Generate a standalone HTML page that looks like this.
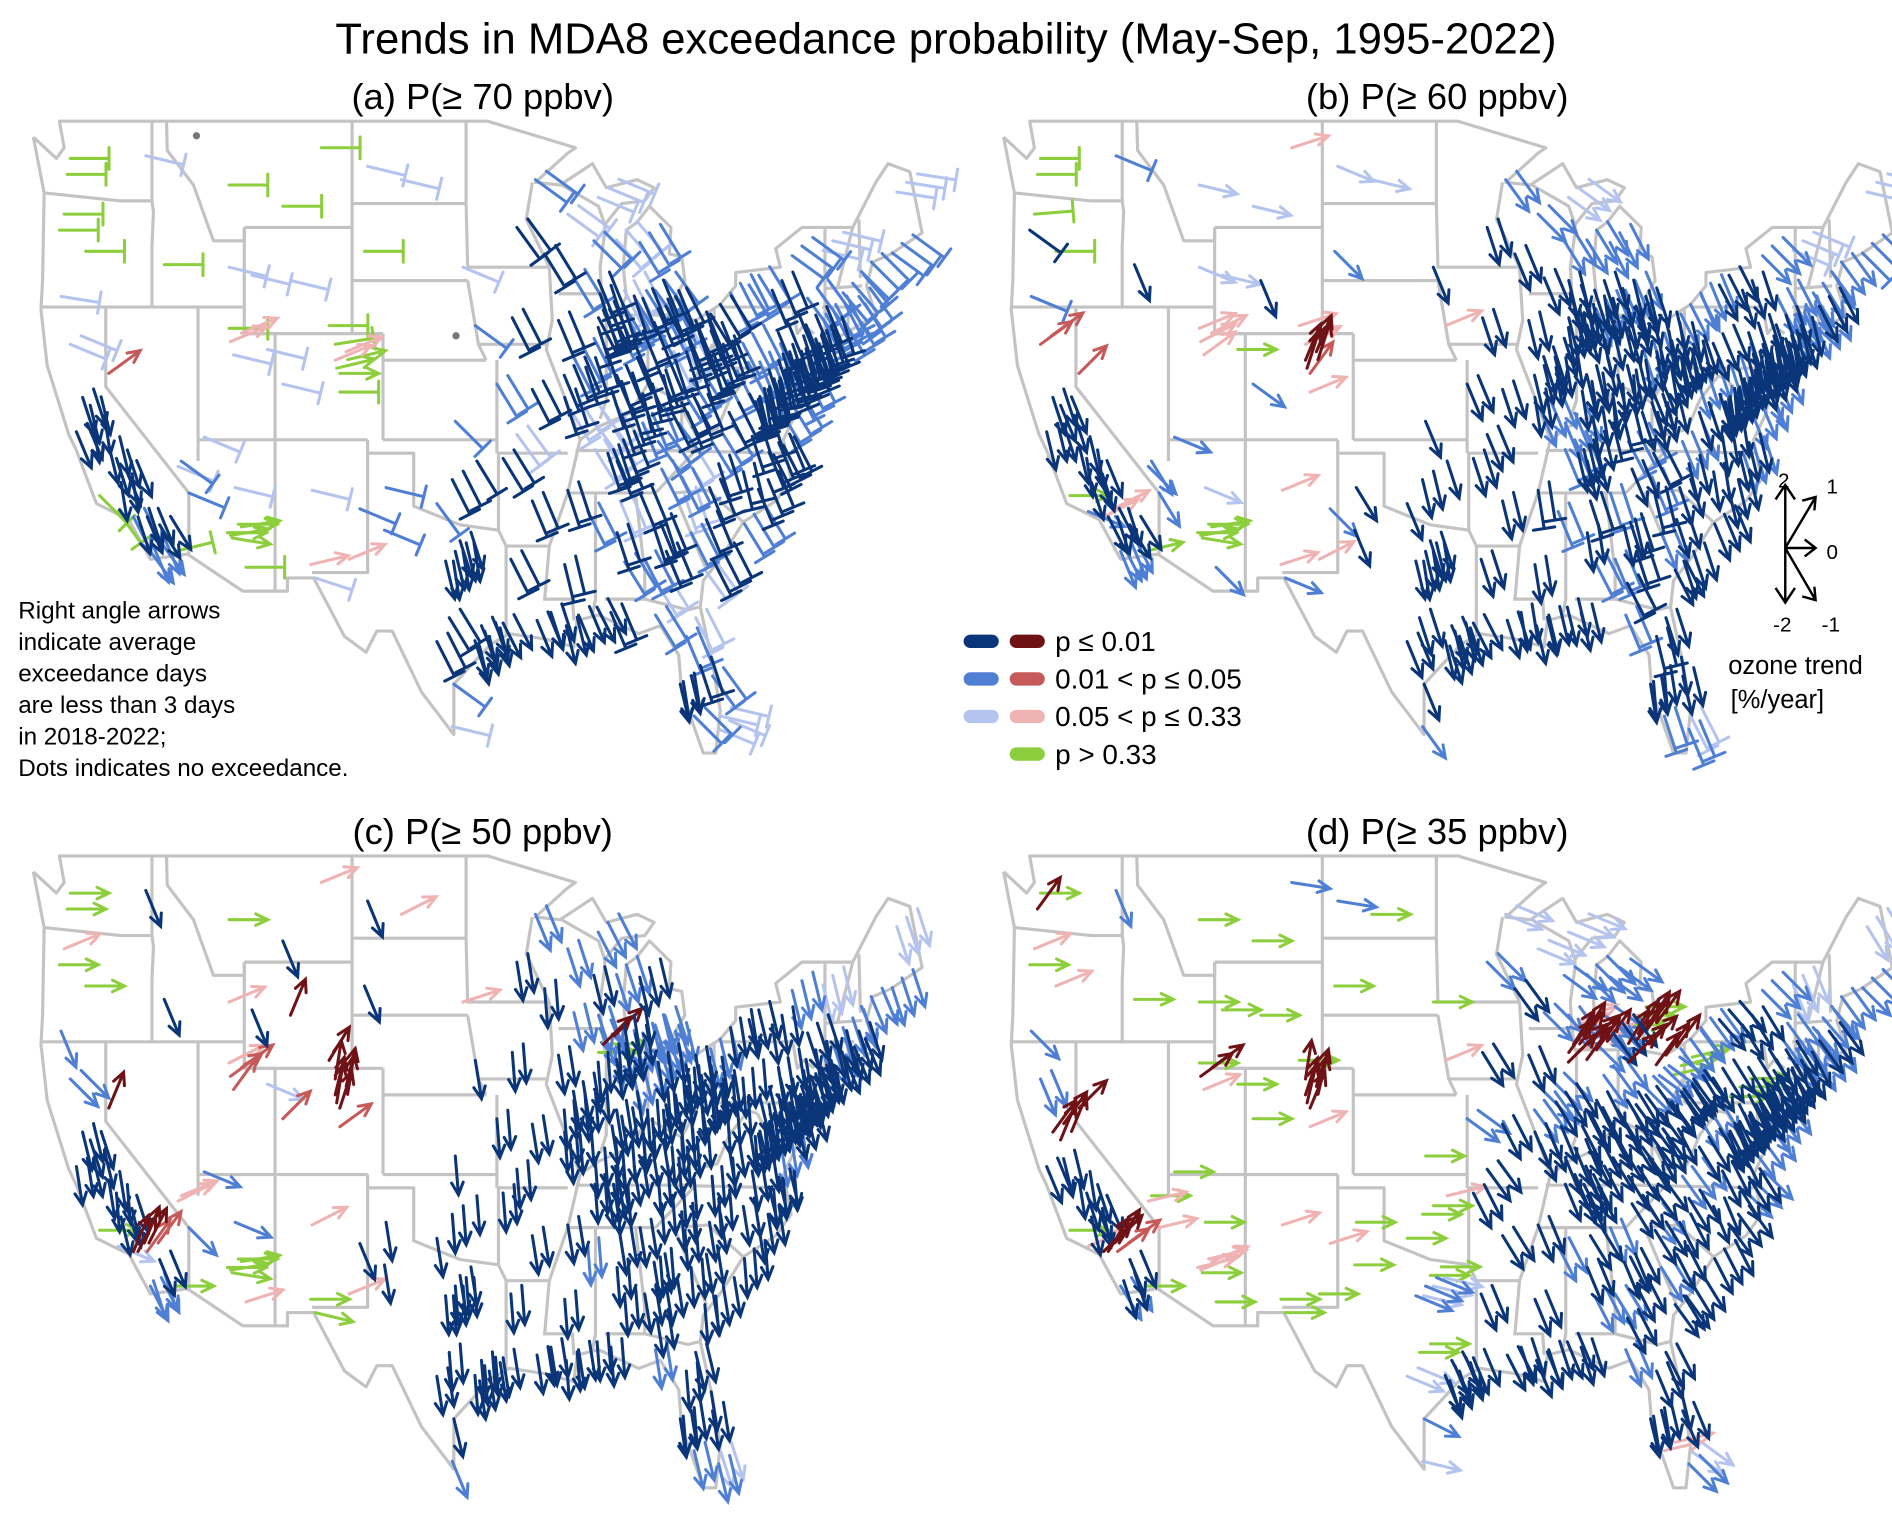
<!DOCTYPE html>
<html><head><meta charset="utf-8"><style>
html,body{margin:0;padding:0;background:#fff;}
svg{display:block;font-family:"Liberation Sans",Arial,sans-serif;}
</style></head><body>
<svg id="fig" width="1892" height="1513" viewBox="0 0 1560 1248" preserveAspectRatio="none" xmlns="http://www.w3.org/2000/svg">
<rect width="1560" height="1248" fill="#fff"/>
<text x="780" y="44" font-size="36" text-anchor="middle">Trends in MDA8 exceedance probability (May-Sep, 1995-2022)</text>
<text x="398" y="90" font-size="30" text-anchor="middle">(a) P(≥ 70 ppbv)</text>
<text x="1185" y="90" font-size="30" text-anchor="middle">(b) P(≥ 60 ppbv)</text>
<text x="398" y="696" font-size="30" text-anchor="middle">(c) P(≥ 50 ppbv)</text>
<text x="1185" y="696" font-size="30" text-anchor="middle">(d) P(≥ 35 ppbv)</text>
<g id="maps"></g>
<g font-size="20">
<text x="15" y="510">Right angle arrows</text>
<text x="15" y="536">indicate average</text>
<text x="15" y="562">exceedance days</text>
<text x="15" y="588">are less than 3 days</text>
<text x="15" y="614">in 2018-2022;</text>
<text x="15" y="640">Dots indicates no exceedance.</text>
</g>
<g font-size="23">
<g><line x1="800" y1="529" x2="818" y2="529" stroke="#0a3578" stroke-width="11" stroke-linecap="round"/><line x1="838" y1="529" x2="856" y2="529" stroke="#6e1216" stroke-width="11" stroke-linecap="round"/><text x="870" y="537">p ≤ 0.01</text></g>
<g><line x1="800" y1="560" x2="818" y2="560" stroke="#4f7fd4" stroke-width="11" stroke-linecap="round"/><line x1="838" y1="560" x2="856" y2="560" stroke="#c65a5a" stroke-width="11" stroke-linecap="round"/><text x="870" y="568">0.01 &lt; p ≤ 0.05</text></g>
<g><line x1="800" y1="591" x2="818" y2="591" stroke="#b5c4ee" stroke-width="11" stroke-linecap="round"/><line x1="838" y1="591" x2="856" y2="591" stroke="#f0b3b3" stroke-width="11" stroke-linecap="round"/><text x="870" y="599">0.05 &lt; p ≤ 0.33</text></g>
<g><line x1="838" y1="622" x2="856" y2="622" stroke="#8cce3c" stroke-width="11" stroke-linecap="round"/><text x="870" y="630">p &gt; 0.33</text></g>
</g>
<g font-size="17" stroke="#000" stroke-width="2" fill="none">
<path d="M1472 452 L1472 400 M1464 412 L1472 400 L1480 412"/>
<path d="M1472 452 L1497 410 M1486 413 L1497 410 L1496 421"/>
<path d="M1472 452 L1497 452 M1488 445 L1497 452 L1488 459"/>
<path d="M1472 452 L1497 495 M1486 492 L1497 495 L1496 484"/>
<path d="M1472 452 L1472 497 M1464 485 L1472 497 L1480 485"/>
<g stroke="none" fill="#000"><text x="1466" y="402">2</text><text x="1506" y="407">1</text><text x="1506" y="461">0</text><text x="1462" y="521">-2</text><text x="1502" y="521">-1</text></g>
<g stroke="none" fill="#000" font-size="21"><text x="1425" y="556">ozone trend</text><text x="1427" y="584">[%/year]</text></g>
</g>
</svg>
<script>
// station locations [lon, lat]
const stations=[
[-122.3,47.6],[-122.5,47.0],[-117.4,47.7],[-122.7,45.5],[-123.0,44.9],[-122.9,42.4],[-121.3,44.1],
[-122.3,40.6],[-121.5,38.6],[-121.0,38.3],[-121.9,37.3],[-120.8,37.6],[-119.8,36.8],[-119.3,36.3],[-119.0,35.4],[-118.7,35.9],[-118.2,34.1],[-117.9,34.1],[-117.3,34.1],[-116.5,33.8],[-117.1,32.8],[-116.9,33.0],[-120.4,34.9],[-119.2,34.3],[-115.5,32.8],
[-119.8,39.5],[-115.1,36.2],[-115.3,36.0],[-116.2,43.6],[-112.0,43.5],[-112,46.6],[-108.5,45.8],[-106,48],[-108,43],[-105.5,41.3],[-110.5,43.2],[-111.9,40.7],[-111.7,40.2],[-112,41.2],[-113.6,37.1],[-109.5,40.4],[-105.0,39.7],[-105.1,40.0],[-104.8,39.5],[-105.1,40.6],[-104.8,38.8],[-108.5,39.1],[-112.1,33.5],[-111.9,33.4],[-111.8,33.3],[-110.9,32.2],[-111.6,35.2],[-114.6,35.0],[-106.6,35.1],[-106.7,32.3],
[-104.2,32.5],[-103.5,34.4],[-106.4,31.8],[-101.8,35.2],[-101.9,33.6],[-97.3,32.8],[-96.8,32.8],[-97.0,33.2],[-95.4,29.8],[-95.1,29.6],[-95.6,30.0],[-94.2,30.1],[-97.7,30.3],[-98.5,29.4],[-97.4,27.8],[-97.5,26.2],[-97.5,35.5],[-95.9,36.2],[-98.5,34.6],[-97.3,37.7],[-96.0,41.3],[-100.8,46.8],[-103,47.3],[-96.8,43.5],[-103.2,44.1],
[-93.3,45.0],[-92.1,46.8],[-91.5,44.0],[-93.6,41.6],[-90.6,41.5],[-94.6,39.1],[-90.2,38.6],[-92.3,38.9],[-93.3,37.2],[-92.3,34.7],[-94.2,36.3],[-93.7,32.5],[-91.1,30.5],[-90.1,30.0],[-92.0,30.2],[-89.6,43.1],[-88.0,43.0],[-87.9,42.5],[-88.3,44.5],[-90.0,45.5],[-87.7,41.9],[-88.0,41.6],
[-89.6,39.8],[-89.0,40.5],[-88.2,40.1],[-89.2,38.5],[-86.2,39.8],[-87.4,41.6],[-86.2,41.7],[-85.1,41.1],[-87.6,38.0],[-86.5,39.2],[-83.0,42.4],[-83.5,42.3],[-85.6,42.3],[-86.4,42.1],[-85.7,43.0],[-84.5,42.7],[-83.7,43.0],[-84.7,44.8],[-86.2,44.9],[-87.4,46.5],[-81.7,41.5],[-81.5,41.1],[-83.5,41.6],[-84.5,39.1],[-84.2,39.8],[-83.0,40.0],[-82.5,40.7],[-80.7,41.1],[-82.0,39.3],[-85.8,38.2],[-84.5,38.0],[-82.6,38.4],[-87.6,37.0],[-86.4,37.0],[-83.5,37.3],
[-86.8,36.2],[-90.0,35.1],[-83.9,35.9],[-85.3,35.0],[-82.5,36.5],[-87.4,36.5],[-90.2,32.3],[-88.7,34.3],[-89.3,30.4],[-86.8,33.5],[-86.6,34.7],[-88.1,30.7],[-86.3,32.4],[-84.4,33.7],[-84.0,33.9],[-85.0,32.5],[-81.1,32.1],[-83.6,32.8],[-82.0,33.5],[-84.2,31.6],[-87.2,30.5],[-84.3,30.4],[-81.7,30.3],[-81.4,28.5],[-82.5,27.9],[-82.7,27.8],[-82.3,29.6],[-80.2,26.1],[-80.1,26.6],[-81.8,26.6],[-80.6,28.1],[-80.8,35.2],[-80.2,36.1],[-78.6,35.8],[-82.6,35.6],[-81.0,34.0],[-82.4,34.9],
[-79.9,32.8],[-77.9,34.2],[-77.0,35.5],[-76.0,36.8],[-77.4,37.5],[-76.3,36.9],[-77.0,38.9],[-77.2,38.8],[-76.6,39.3],[-76.9,39.0],[-80.0,37.3],[-78.9,38.4],[-81.6,38.4],[-80.7,40.1],[-79.0,39.6],[-75.6,39.7],[-75.5,38.4],[-80.0,40.4],[-79.9,40.6],[-75.2,40.0],[-75.4,40.6],[-76.9,40.3],[-76.3,40.0],[-78.0,41.0],[-80.1,42.1],[-75.7,41.4],[-74.2,40.7],[-74.4,40.3],[-74.7,39.9],[-74.5,39.4],[-73.9,40.8],[-73.4,40.8],[-78.8,42.9],[-77.6,43.2],[-76.1,43.0],[-73.8,42.7],[-74.8,44.3],[-73.9,41.7],[-72.9,41.3],[-72.7,41.8],[-71.4,41.8],[-71.1,42.4],[-72.6,42.1],[-71.5,42.9],[-70.3,43.7],[-68.3,44.4],[-72.8,44.5],[-68.0,46.7]
];
// number of monitors at each site
const siteCount=[1,1,1,1,1,1,1,
2,2,2,2,2,2,2,2,2,2,2,2,2,2,2,1,1,1,
1,1,1,1,1,1,1,1,1,1,1,2,1,1,1,1,2,2,1,1,1,1,2,2,1,1,1,1,1,1,
1,1,1,1,1,3,3,2,3,3,2,2,2,2,1,1,2,1,1,1,1,1,1,1,1,
2,2,2,2,2,2,2,2,2,2,2,2,2,2,2,2,2,2,2,2,2,2,
3,3,3,3,3,3,3,3,3,3,3,3,3,3,3,3,3,3,3,3,3,3,3,3,3,3,3,3,3,3,3,3,3,3,3,
2,2,2,2,2,2,2,2,2,2,2,2,2,2,2,2,2,2,2,2,2,2,2,2,2,2,2,2,2,2,2,2,2,2,2,2,2,
3,3,3,3,3,3,3,3,3,3,3,3,3,3,3,3,3,3,3,3,3,3,3,3,3,3,3,3,3,3,3,3,3,3,3,3,3,3,3,3,3,3,3,3,3,3,3,3];
// panel (a) P>=70
const trA=[0,0,-0.3,0,0,-0.2,0,
-0.5,-1.6,-1.7,-1.5,-1.8,-1.7,-1.6,-1.8,-1.5,-1.4,-1.6,-1.5,-1.3,-1.2,-1.5,-1.0,-1.2,0.3,
0.8,-0.8,-0.5,0,-0.3,0,0,0,-0.3,0,-0.3,0.5,-0.3,0,-0.5,-0.3,0.3,0.5,0,0.2,0,-0.3,0,0.2,-0.2,0,-0.3,-0.5,-0.3,0.3,
0.5,-0.5,-0.4,-0.3,-0.5,-1.7,-1.8,-1.6,-1.6,-1.7,-1.5,-1.4,-1.3,-1.4,-0.8,-0.3,-1.4,-1.3,-1.2,-1.0,-0.8,-0.3,-0.3,-0.5,0,
-1.2,-0.8,-1.3,-1.4,-1.5,-1.3,-1.6,-1.4,-1.2,-1.5,-1.3,-1.4,-1.6,-1.7,-1.5,-1.3,-1.5,-1.6,-1.0,-0.8,-1.5,-1.4,
-1.5,-1.4,-1.6,-1.3,-1.5,-1.6,-1.4,-1.5,-1.2,-1.6,-1.4,-1.5,-1.3,-1.6,-1.4,-1.5,-1.2,-1.3,-1.1,-0.5,-1.5,-1.6,-1.4,-1.7,-1.5,-1.6,-1.4,-1.5,-1.3,-1.6,-1.5,-1.4,-1.3,-1.5,-1.2,
-1.5,-1.6,-1.4,-1.5,-1.3,-1.6,-1.7,-1.4,-1.5,-1.6,-1.5,-1.4,-1.3,-1.6,-1.5,-1.4,-1.2,-1.5,-1.4,-1.3,-1.5,-1.3,-1.4,-1.6,-1.8,-1.7,-1.5,-0.5,-0.3,-1.0,-1.2,-1.5,-1.6,-1.7,-1.4,-1.5,-1.6,
-1.4,-1.3,-1.5,-1.4,-1.6,-1.5,-1.7,-1.6,-1.8,-1.7,-1.3,-1.4,-1.5,-1.6,-1.4,-1.7,-1.3,-1.6,-1.5,-1.7,-1.6,-1.5,-1.6,-1.4,-1.3,-1.5,-1.7,-1.6,-1.5,-1.4,-1.6,-1.5,-1.4,-1.3,-1.5,-1.2,-0.8,-1.5,-1.6,-1.4,-1.3,-1.2,-1.4,-1.1,-1.0,-0.8,-0.3,-0.2];
const sigA=[4,4,3,4,4,3,4,
3,1,1,1,1,1,1,1,1,2,1,1,1,2,2,4,4,4,
2,2,3,4,3,4,4,4,3,4,3,3,3,4,3,3,4,3,4,4,4,3,4,4,4,4,3,2,3,3,
3,2,3,2,2,1,1,1,1,1,1,1,1,1,2,3,1,1,2,2,2,3,3,3,4,
1,2,1,1,1,2,1,1,3,1,1,1,1,1,1,2,1,1,2,3,1,1,
1,2,1,3,1,1,2,1,3,1,1,1,2,1,3,1,2,2,3,3,1,1,2,1,1,1,3,1,2,1,2,1,3,1,2,
1,1,2,1,3,1,1,2,1,1,3,1,2,1,1,2,3,1,2,3,1,2,3,1,1,1,2,3,3,2,2,1,1,1,2,1,3,
1,2,1,1,1,1,1,1,1,1,2,1,1,1,2,1,2,1,1,1,1,2,1,2,1,1,1,1,1,2,1,1,2,2,1,2,2,1,1,2,2,2,2,2,2,2,3,3];
const shortA=[1,1,1,1,1,1,1,
1,0,0,0,0,0,0,0,0,0,0,0,0,0,0,1,1,1,
0,1,1,1,1,1,1,1,1,1,1,0,1,1,1,1,0,0,0,1,1,1,0,0,0,1,1,1,1,0,
0,1,1,1,1,0,0,0,0,0,0,0,1,1,1,1,1,1,1,1,1,1,1,1,1,
1,1,1,1,1,1,1,1,1,1,1,1,0,0,0,1,1,1,1,1,1,1,
1,1,1,1,1,1,1,1,1,1,1,1,1,1,1,1,1,1,1,1,1,1,1,1,1,1,1,1,1,1,1,1,1,1,1,
1,1,1,1,1,1,1,1,0,1,1,0,1,1,1,1,1,1,1,1,1,1,1,1,0,0,1,1,1,1,1,1,1,1,1,1,1,
1,1,1,1,1,1,1,1,1,1,1,1,1,1,1,1,1,1,1,1,1,1,1,1,1,1,1,1,1,1,1,1,1,1,1,1,1,1,1,1,1,1,1,1,1,1,1,1];
// panel (b) P>=60
const trB=[0,0,-0.5,0.1,-0.8,-0.5,0,
0.8,-1.6,-1.5,-1.7,-1.6,-1.7,-1.8,-1.6,-1.5,0.6,-1.4,-1.6,-1.3,-1.5,-1.4,0,-0.5,0.3,
1.0,-1.3,-1.0,-1.5,-0.5,-0.3,-0.3,0.4,-1.5,0.4,-0.3,0.6,0.8,0.5,-0.5,0,1.6,1.5,1.2,0.6,0.5,-0.8,0,0.2,-0.2,-1.0,-0.5,-1.3,0.5,0.4,
0.6,-1.0,-0.5,-1.3,-1.5,-1.7,-1.8,-1.6,-1.7,-1.6,-1.5,-1.4,-1.6,-1.5,-1.5,-1.2,-1.7,-1.6,-1.5,-1.5,0.5,-0.3,-0.5,-1.5,-1.0,
-1.6,-1.2,-1.5,-1.6,-1.7,-1.5,-1.8,-1.6,-1.5,-1.7,-1.6,-1.6,-1.8,-1.7,-1.6,-1.5,-1.7,-1.6,-1.3,-1.0,-1.6,-1.7,
-1.7,-1.6,-1.8,-1.5,-1.7,-1.8,-1.6,-1.7,-1.5,-1.8,-1.6,-1.7,-1.5,-1.8,-1.6,-1.7,-1.5,-1.4,-1.3,-0.8,-1.7,-1.8,-1.6,-1.9,-1.7,-1.8,-1.6,-1.7,-1.5,-1.8,-1.7,-1.6,-1.5,-1.7,-1.4,
-1.7,-1.8,-1.5,-1.6,-1.4,-1.7,-1.8,-1.5,-1.7,-1.8,-1.6,-1.7,-1.4,-1.7,-1.6,-1.5,-1.4,-1.6,-1.5,-1.4,-1.7,-1.5,-1.6,-1.8,-1.9,-1.8,-1.7,-1.5,-1.4,-1.6,-1.7,-1.6,-1.7,-1.8,-1.5,-1.6,-1.7,
-1.6,-1.5,-1.7,-1.6,-1.8,-1.7,-1.9,-1.8,-1.9,-1.8,-1.5,-1.6,-1.7,-1.8,-1.6,-1.8,-1.5,-1.7,-1.6,-1.8,-1.7,-1.6,-1.7,-1.5,-1.4,-1.6,-1.8,-1.7,-1.6,-1.5,-1.7,-1.6,-1.5,-1.4,-1.6,-1.4,-1.0,-1.6,-1.7,-1.5,-1.5,-1.4,-1.6,-1.3,-1.2,-1.0,-0.5,-0.3];
const sigB=[4,4,2,4,1,2,4,
2,1,1,1,1,1,1,1,1,3,1,1,1,2,2,4,2,4,
2,2,2,1,3,3,3,3,1,3,3,3,3,3,2,4,1,1,2,3,3,2,4,4,4,2,3,2,3,3,
3,2,2,1,1,1,1,1,1,1,1,1,1,1,1,2,1,1,1,1,3,3,3,1,2,
1,2,1,1,1,1,1,1,1,1,1,1,1,1,1,1,1,1,2,2,1,1,
1,1,1,2,1,1,1,1,2,1,1,1,2,1,1,1,2,2,2,3,1,1,1,1,1,1,2,1,1,1,1,1,2,1,2,
1,1,1,2,1,1,1,2,1,1,1,1,2,1,1,2,1,1,2,1,1,2,1,1,1,1,1,2,3,2,1,1,1,1,2,1,1,
1,1,1,2,1,1,1,1,1,1,2,1,1,1,2,1,2,1,1,1,1,2,1,1,2,1,1,1,1,2,1,1,2,1,1,2,2,1,1,2,2,1,2,2,2,2,3,3];
const shortB=[1,1,1,1,1,1,1,
0,0,0,0,0,0,0,0,0,0,0,0,0,0,0,0,0,0,
0,0,0,0,0,0,0,0,0,0,0,0,0,0,0,0,0,0,0,0,0,0,0,0,0,0,0,0,0,0,
0,0,0,0,0,0,0,0,0,0,0,0,0,0,0,0,0,0,0,0,0,0,0,0,0,
0,0,0,0,0,0,0,0,0,0,0,0,0,0,0,0,0,0,0,0,0,0,
0,0,0,0,0,0,0,0,0,0,0,0,0,0,0,0,0,0,0,0,0,0,0,0,0,0,0,0,0,0,1,0,1,0,1,
0,1,0,1,1,0,0,1,0,0,1,0,1,0,1,1,0,1,0,1,0,1,0,0,0,0,1,1,1,1,0,0,0,0,1,0,1,
0,0,0,0,0,0,0,0,0,0,0,0,0,0,0,0,0,0,0,0,0,0,0,0,0,0,0,0,0,0,0,0,0,0,0,0,0,0,0,0,0,0,0,0,0,1,1,1];
// panel (c) P>=50
const trC=[0,0,-1.5,0.5,0,-1.5,0,
-1.0,-1.7,-1.6,-1.8,-1.7,-1.8,-1.9,-1.7,-1.6,1.5,1.4,1.2,-1.5,-1.4,-1.6,0,-0.5,0,
1.5,0.5,0.6,-1.5,0.5,0,-1.5,0.5,1.5,1.3,-1.5,0.8,1.2,0.6,-0.5,-0.5,1.8,1.7,1.6,1.8,0.8,1.0,0,0.2,-0.2,0.4,-0.5,-1.0,0.6,0,
0.5,-1.5,-0.3,-1.8,-1.8,-1.9,-1.9,-1.8,-1.9,-1.8,-1.9,-1.8,-1.9,-1.8,-1.7,-1.5,-1.9,-1.9,-1.8,-1.9,-1.8,0.6,-1.5,0.4,-1.5,
-1.8,-1.5,-1.9,-1.9,-1.8,-1.9,-1.9,-1.8,-1.9,-1.8,-1.9,-1.9,-1.8,-1.9,-1.8,-1.7,-1.6,-1.5,-1.7,-1.6,1.0,0,
-1.9,-1.8,-1.9,-1.9,-1.8,-1.9,-1.8,-1.7,-1.9,-1.8,-1.7,-1.6,-1.8,-1.7,-1.8,-1.7,-1.6,-1.7,-1.6,-1.4,-1.8,-1.9,-1.8,-1.9,-1.9,-1.8,-1.9,-1.8,-1.9,-1.9,-1.8,-1.9,-1.9,-1.8,-1.9,
-1.9,-1.8,-1.9,-1.8,-1.9,-1.8,-1.9,-1.9,-1.8,-1.9,-1.8,-1.9,-1.9,-1.8,-1.9,-1.8,-1.9,-1.8,-1.9,-1.8,-1.9,-1.8,-1.7,-1.8,-1.9,-1.8,-1.9,-1.7,-1.6,-1.7,-1.8,-1.8,-1.9,-1.8,-1.9,-1.8,-1.9,
-1.8,-1.9,-1.8,-1.9,-1.8,-1.7,-1.8,-1.9,-1.8,-1.7,-1.9,-1.8,-1.9,-1.8,-1.9,-1.7,-1.8,-1.9,-1.8,-1.7,-1.8,-1.7,-1.8,-1.9,-1.7,-1.8,-1.6,-1.7,-1.8,-1.7,-1.6,-1.7,-1.8,-1.7,-1.8,-1.6,-1.7,-1.8,-1.7,-1.6,-1.5,-1.6,-1.7,-1.6,-1.5,-1.6,-1.7,-1.6];
const sigC=[4,4,1,3,4,2,4,
2,1,1,1,1,1,1,1,1,1,1,2,1,2,2,4,3,4,
1,3,3,1,3,4,1,3,1,1,1,2,2,3,2,3,1,1,1,1,2,2,4,4,4,3,2,2,3,4,
3,1,4,1,1,1,1,1,1,1,1,1,1,1,1,2,1,1,1,1,1,3,1,3,1,
1,2,1,1,1,1,1,1,1,1,1,1,1,1,1,2,2,2,1,2,1,4,
1,1,1,1,1,1,1,2,1,1,2,2,1,2,1,2,2,1,2,2,1,1,1,1,1,1,1,1,1,1,1,1,1,1,1,
1,1,1,1,1,1,1,2,1,1,1,1,1,1,1,1,1,1,1,1,1,2,1,1,1,1,1,2,3,2,1,1,1,1,1,1,1,
1,1,1,1,1,1,1,1,1,1,1,1,1,1,1,1,2,1,1,1,1,1,1,1,2,1,1,1,1,1,1,1,1,1,1,1,2,1,1,2,1,1,1,2,2,2,3,3];
// panel (d) P>=35
const trD=[0,1.2,-1.5,0.5,0,-1.0,0.5,
-1.5,1.2,1.5,-1.5,-1.7,-1.8,-1.6,-1.7,-1.5,1.0,1.3,0.8,-1.5,-1.3,-1.6,0,0.5,0,
1.0,0,0.3,0,0,0,0,-0.2,0,0,0,0.8,0.5,0,0,0,1.7,1.6,1.5,1.8,0.5,0,0.3,0.5,0,0,0,0.3,0.4,0,
0,0.4,0,0,0,-0.5,-0.3,0,-1.5,-1.6,-1.4,-1.5,0,-0.5,-0.6,-0.3,0,0.3,0,0,0.5,0,-0.2,0,0,
-1.0,-0.5,-1.2,-1.3,-1.5,-0.8,-1.5,-1.4,-1.2,-1.3,-1.4,-1.5,-1.6,-1.5,-1.4,-1.0,-1.2,0.5,-0.8,-0.5,1.3,1.2,
-1.2,-1.0,-1.3,-1.5,-1.4,1.0,1.2,-1.2,-1.5,-1.4,1.2,1.3,-1.0,0.5,-0.8,-1.2,0,-0.8,-1.0,-0.5,1.2,-0.8,1.0,-1.4,-1.3,-1.2,-1.0,0.3,-1.2,-1.4,-1.3,-1.2,-1.5,-1.4,-1.3,
-1.4,-1.5,-1.3,-1.5,-1.2,-1.4,-1.5,-1.4,-1.6,-1.5,-1.3,-1.5,-1.4,-1.5,-1.4,-1.3,-1.2,-1.4,-1.3,-1.4,-1.6,-1.5,-1.4,-1.7,-1.8,-1.7,-1.5,-1.0,-0.8,0.3,-1.5,-1.4,-1.3,-1.5,-1.2,-1.4,-1.3,
-1.3,-1.4,-1.2,-1.0,-1.4,-1.3,-1.5,-1.4,-1.5,-1.4,-1.2,-1.3,-1.4,-1.2,-1.3,-1.5,-1.2,-1.3,-1.2,-1.4,-1.3,0,-1.4,-1.3,-1.2,-1.3,-1.5,-1.4,-1.3,-1.2,-1.4,-1.3,-1.2,-1.1,-1.3,-1.2,-1.0,-1.3,-1.4,-1.2,-1.3,-1.2,-1.3,-1.1,-1.2,-1.0,-1.5,-1.3];
const sigD=[4,1,2,3,4,2,3,
2,1,1,1,1,1,1,1,1,1,1,2,1,2,1,4,3,4,
1,4,3,4,4,4,4,2,4,4,4,1,3,4,4,4,1,1,1,1,3,4,3,3,4,4,4,3,3,4,
4,3,4,4,4,2,3,4,1,1,1,1,4,3,2,3,4,3,4,4,3,4,2,4,4,
2,3,1,1,1,2,1,1,1,1,1,1,1,1,1,2,2,3,2,3,1,1,
2,2,1,1,1,1,1,2,1,1,1,1,2,3,2,1,4,2,2,3,1,2,1,1,1,1,2,4,1,1,1,1,1,1,1,
1,1,1,2,1,1,1,2,1,1,1,1,2,1,1,2,1,1,2,1,1,2,1,1,1,1,1,2,3,3,1,1,1,1,2,1,1,
1,1,1,2,1,1,1,1,1,1,2,1,1,1,2,1,2,1,1,1,1,4,1,1,2,1,1,1,1,2,1,1,2,1,1,2,2,1,1,2,2,1,2,2,2,2,3,3];

// geography (lon/lat polylines)
const outline=[[-124.7,48.4],[-124.0,46.3],[-124.1,43.0],[-124.2,41.9],[-123.8,39.8],[-122.4,37.2],[-121.9,36.6],[-120.6,34.6],[-118.5,34.0],[-117.1,32.5],[-114.7,32.7],[-111.1,31.3],[-108.2,31.3],[-108.2,31.8],[-106.5,31.8],[-104.5,29.6],[-103.1,29.0],[-102.4,29.8],[-101.4,29.8],[-99.5,27.5],[-97.4,25.9],[-97.4,27.8],[-95.0,29.3],[-93.8,29.7],[-91.5,29.5],[-89.6,29.2],[-89.4,30.2],[-88.0,30.4],[-85.4,29.7],[-84.0,30.0],[-82.8,28.9],[-82.6,27.5],[-81.2,25.2],[-80.4,25.2],[-80.1,26.8],[-80.6,28.6],[-81.4,30.7],[-81.2,31.7],[-80.0,32.6],[-78.6,33.9],[-76.5,34.7],[-75.5,35.5],[-76.0,37.0],[-75.2,38.0],[-74.9,38.9],[-74.0,40.5],[-72.0,41.0],[-70.0,41.7],[-70.6,42.8],[-70.2,43.7],[-69.0,44.0],[-67.0,44.8],[-67.8,47.1],[-69.2,47.4],[-70.0,46.7],[-71.5,45.0],[-74.8,45.0],[-76.5,44.2],[-76.2,43.5],[-79.1,43.3],[-79.1,42.8],[-80.1,42.1],[-81.7,41.5],[-83.5,41.7],[-83.1,42.3],[-82.4,43.0],[-82.6,43.9],[-83.4,44.0],[-83.3,45.0],[-84.7,45.8],[-85.5,45.2],[-86.2,44.9],[-86.4,43.5],[-86.2,42.4],[-86.8,41.7],[-87.6,41.7],[-87.8,42.5],[-87.9,43.5],[-87.6,44.8],[-87.6,45.1],[-86.5,45.9],[-85.0,46.0],[-84.4,46.5],[-85.5,46.8],[-87.5,46.5],[-88.4,47.4],[-90.5,46.6],[-92.1,46.7],[-90.0,47.8],[-89.5,48.0],[-95.2,49.0],[-123.0,49.0],[-122.7,48.0],[-123.2,47.6],[-124.7,48.4]];
const borders=[
[[-124,46.3],[-119,46],[-116.9,46]],[[-117,49],[-117,46.0],[-116.9,45.6],[-117,44.3],[-117,42]],[[-124.2,42],[-111,42]],
[[-120,42],[-120,39],[-114.6,35],[-114.6,32.7]],[[-114,42],[-114,36.2]],[[-114,37],[-103,37]],[[-109,41],[-109,31.3]],
[[-111,42],[-111,41],[-109,41]],[[-111,41],[-102,41]],[[-111,45],[-104,45]],[[-111,45],[-111,42]],[[-104,49],[-104,41]],
[[-116.05,49],[-116,47.9],[-114.3,46.6],[-113,44.5],[-111,44.5],[-111,45]],[[-104,45.9],[-96.6,45.9]],[[-104,43],[-96.5,43]],
[[-102,40],[-95.3,40]],[[-102,41],[-102,37]],[[-102,37],[-94.6,37]],[[-103,36.5],[-100,36.5],[-100,34.5],[-97,33.8],[-94.5,33.6]],
[[-103,37],[-103,32],[-106.6,32]],[[-96.6,49],[-96.6,45.9],[-96.5,43.5],[-91.2,43.5]],[[-95.8,40.6],[-91.4,40.6]],[[-96.5,43],[-95.8,40.6],[-95.3,40]],
[[-94.6,40],[-94.6,36.5]],[[-94.6,36.5],[-90,36.5]],[[-94.5,36.5],[-94.5,33.6],[-94,33]],[[-94,33],[-91.2,33]],[[-94,33],[-94,29.7]],
[[-91.2,43.5],[-91,41.5],[-91.4,40.4],[-90.2,38.6],[-89.2,37],[-90,35],[-91.2,33],[-91.5,31.0]],[[-91.6,31],[-89.7,31],[-89.6,30.2]],
[[-92.3,46.7],[-92.7,45.3],[-91.2,43.5]],[[-90.6,42.5],[-87.8,42.5]],[[-90.4,46.6],[-88,45.8],[-87.6,45.1]],
[[-87.5,41.7],[-87.5,38.5],[-87.9,37.8]],[[-89.2,37],[-88,37.5],[-86,38],[-84.8,39.1],[-82.6,38.4],[-80.6,40.6]],[[-84.8,41.7],[-84.8,39.1]],[[-87,41.7],[-83.5,41.7]],[[-80.5,42],[-80.5,39.7]],
[[-89.5,36.6],[-81.7,36.6]],[[-90,35],[-84.3,35]],[[-84.3,35],[-81.7,36.6]],[[-83.7,36.6],[-75.9,36.5]],[[-81.7,36.6],[-82.6,37.3],[-82.6,38.2]],
[[-88.2,35],[-88.2,31],[-88.4,30.4]],[[-85.6,35],[-85,32],[-85,31]],[[-87.6,31],[-85,31]],[[-85,31],[-82.2,30.6],[-81.5,30.7]],[[-83.1,35],[-81,32.1]],[[-83.1,35],[-80.9,35.1],[-78.6,33.9]],
[[-82.6,38.2],[-81.7,37.2],[-80.3,37.4],[-79.5,38.5],[-78.3,39.4],[-77.7,39.3]],[[-80.5,39.7],[-75.8,39.7]],[[-80,42],[-75.4,42],[-75.1,41],[-74.7,41.3],[-74,41]],
[[-73.3,45],[-73.3,41]],[[-72.5,42.7],[-71.5,45]],[[-71,43.1],[-71.1,45.3]],[[-73.5,42],[-71.4,42]],[[-71.8,42],[-71.8,41.3]],[[-73.3,42.7],[-70.9,42.8]],
[[-77.7,39.3],[-77,38.5],[-76.2,38.0]],[[-75.8,39.7],[-75.7,38.4],[-75.1,38.4]]];

const NEG=['#0a3578','#4f7fd4','#b5c4ee'], POS=['#6e1216','#c65a5a','#f0b3b3'], GREEN='#8cce3c';
const SVGNS='http://www.w3.org/2000/svg';
const JIT=[[0,0],[9,-7],[-8,8]];
function X(lon){return 30+(lon+124.5)*12.7;}
function Y(lat){return 100+(49-lat)*21.9;}
function pts(arr,ox,oy){return arr.map(p=>(X(p[0])+ox).toFixed(1)+','+(Y(p[1])+oy).toFixed(1)).join(' ');}
const maps=document.getElementById('maps');
function drawPanel(key,ox,oy,tr,sig,sh){
  const g=document.createElementNS(SVGNS,'g');
  
  
  maps.appendChild(g);
  const geo=document.createElementNS(SVGNS,'g');
  
  
  geo.setAttribute('fill','none');geo.setAttribute('stroke','#c3c3c3');geo.setAttribute('stroke-width','2.6');geo.setAttribute('stroke-linejoin','round');
  g.appendChild(geo);
  const o=document.createElementNS(SVGNS,'polyline');
  o.setAttribute('points',pts(outline,ox,oy));
  
  
  geo.appendChild(o);
  borders.forEach(b=>{const l=document.createElementNS(SVGNS,'polyline');l.setAttribute('points',pts(b,ox,oy));
    
    
    geo.appendChild(l);});
  const ag=document.createElementNS(SVGNS,'g');
  
  
  ag.setAttribute('fill','none');ag.setAttribute('stroke-width','2.5');ag.setAttribute('stroke-linecap','round');
  g.appendChild(ag);
  const order=stations.map((s,i)=>i).sort((a,b)=>(sig[b]||4)-(sig[a]||4));
  const L=32;
  order.forEach(i=>{
    if(tr[i]===undefined)return;
    const s=sig[i]||4, t=tr[i];
    const col = s===4?GREEN:(t>0?POS[s-1]:NEG[s-1]);
    const th=t*Math.PI/4;
    const dx=Math.cos(th), dy=-Math.sin(th);
    const n=siteCount[i]||1;
    for(let k=0;k<n;k++){
      const x0=X(stations[i][0])+ox+JIT[k][0], y0=Y(stations[i][1])+oy+JIT[k][1];
      const x1=x0+L*dx, y1=y0+L*dy;
      let d='M'+x0.toFixed(1)+' '+y0.toFixed(1)+' L'+x1.toFixed(1)+' '+y1.toFixed(1);
      if(sh && sh[i]){
        const px=-dy*9, py=dx*9;
        d+=' M'+(x1+px).toFixed(1)+' '+(y1+py).toFixed(1)+' L'+(x1-px).toFixed(1)+' '+(y1-py).toFixed(1);
      } else {
        const a1=th+Math.PI-0.45, a2=th+Math.PI+0.45, h=11;
        d+=' M'+(x1+h*Math.cos(a1)).toFixed(1)+' '+(y1-h*Math.sin(a1)).toFixed(1)+' L'+x1.toFixed(1)+' '+y1.toFixed(1)+' L'+(x1+h*Math.cos(a2)).toFixed(1)+' '+(y1-h*Math.sin(a2)).toFixed(1);
      }
      const p=document.createElementNS(SVGNS,'path');
      p.setAttribute('d',d);p.setAttribute('stroke',col);
      
      
      ag.appendChild(p);
    }
  });
}
drawPanel('a',0,0,trA,sigA,shortA);
drawPanel('b',800,0,trB,sigB,shortB);
drawPanel('c',0,606,trC,sigC,null);
drawPanel('d',800,606,trD,sigD,null);
[[162,112],[376,277]].forEach(p=>{const c=document.createElementNS(SVGNS,'circle');c.setAttribute('cx',p[0]);c.setAttribute('cy',p[1]);c.setAttribute('r','3');c.setAttribute('fill','#777');
  
  
  maps.appendChild(c);});
</script>
</body></html>
